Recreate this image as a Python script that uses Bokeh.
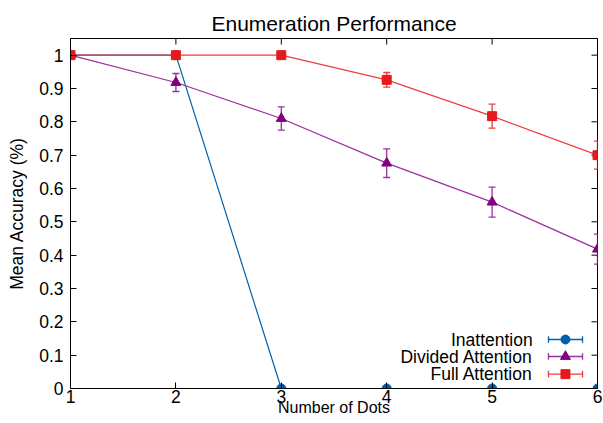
import math
from bokeh.plotting import figure
from bokeh.models import Label, Range1d, FixedTicker, Whisker, ColumnDataSource, TeeHead
from bokeh.embed import file_html
from bokeh.resources import INLINE

dots = [1, 2, 3, 4, 5, 6]
inattention = [1.0, 1.0, 0.0, 0.0, 0.0, 0.0]
inattention_err = [0.0, 0.0, 0.0, 0.0, 0.0, 0.0]
divided = [1.0, 0.918, 0.81, 0.676, 0.559, 0.418]
divided_err = [0.0, 0.027, 0.035, 0.043, 0.045, 0.045]
full = [1.0, 1.0, 1.0, 0.926, 0.817, 0.70]
full_err = [0.0, 0.0, 0.0, 0.022, 0.036, 0.042]
series_names = ["Inattention", "Divided Attention", "Full Attention"]
x_ticks = [1, 2, 3, 4, 5, 6]
y_ticks = [0, 0.1, 0.2, 0.3, 0.4, 0.5, 0.6, 0.7, 0.8, 0.9, 1.0]

FONT = "Liberation Sans"
BLUE = "#0060ad"
PURPLE = "#800080"
PURPLE_LINE = "#9b30a0"
RED = "#e41a1c"
RED_LINE = "#f03c3c"
X_MIN, X_MAX, Y_MIN, Y_MAX = 1, 6, 0, 1.05

p = figure(width=603, height=423, output_backend="svg", toolbar_location=None,
           x_range=Range1d(X_MIN, X_MAX), y_range=Range1d(Y_MIN, Y_MAX),
           min_border_left=70, min_border_right=6, min_border_top=38, min_border_bottom=35)
p.frame_width = 527
p.frame_height = 350
p.grid.visible = False
p.outline_line_color = "black"
p.outline_line_width = 1
p.background_fill_color = "white"
p.border_fill_color = "white"

p.title.text = "Enumeration Performance"
p.title.align = "center"
p.title.text_font = FONT
p.title.text_font_size = "21px"
p.title.text_font_style = "normal"
p.title.text_color = "black"
p.title.offset = 0
p.title.standoff = 7

for ax in [p.xaxis[0], p.yaxis[0]]:
    ax.major_tick_in = 6
    ax.major_tick_out = 0
    ax.minor_tick_in = 0
    ax.minor_tick_out = 0
    ax.axis_line_color = "black"
    ax.major_tick_line_color = "black"
    ax.major_label_text_font = FONT
    ax.major_label_text_font_size = "17.5px"
    ax.major_label_text_color = "black"
    ax.axis_label_text_font = FONT
    ax.axis_label_text_font_size = "17.5px"
    ax.axis_label_text_font_style = "normal"
    ax.axis_label_text_color = "black"

p.xaxis.ticker = FixedTicker(ticks=x_ticks)
p.yaxis.ticker = FixedTicker(ticks=y_ticks)
p.yaxis.major_label_overrides = {0: "0", 1: "1"}
p.xaxis.axis_label = "Number of Dots"
p.xaxis.axis_label_text_font_size = "16px"
p.yaxis.axis_label = "Mean Accuracy (%)"
p.xaxis.major_label_standoff = 1
p.xaxis.axis_label_standoff = -7
p.yaxis.major_label_standoff = 7
p.yaxis.axis_label_standoff = 9

# mirrored inward ticks on top and right (gnuplot style)
p.ray(x=x_ticks, y=[Y_MAX] * len(x_ticks), length=6, length_units="screen",
      angle=-math.pi / 2, line_color="black", line_width=1)
p.ray(x=[X_MAX] * len(y_ticks), y=y_ticks, length=6, length_units="screen",
      angle=math.pi, line_color="black", line_width=1)

MSIZE = {"circle": 9, "triangle": 10, "square": 9}
series = [
    (inattention, inattention_err, BLUE, BLUE, "circle"),
    (divided, divided_err, PURPLE_LINE, PURPLE, "triangle"),
    (full, full_err, RED_LINE, RED, "square"),
]
for vals, errs, lc, mc, marker in series:
    src = ColumnDataSource(dict(x=dots, y=vals,
                                lo=[v - e for v, e in zip(vals, errs)],
                                hi=[v + e for v, e in zip(vals, errs)]))
    p.line("x", "y", source=src, line_color=lc, line_width=1.2)
    w = Whisker(source=src, base="x", lower="lo", upper="hi", line_color=lc, line_width=1.3,
                upper_head=TeeHead(size=7, line_color=lc, line_width=1.3),
                lower_head=TeeHead(size=7, line_color=lc, line_width=1.3))
    p.add_layout(w)
    p.scatter("x", "y", source=src, marker=marker, size=MSIZE[marker],
              fill_color=mc, line_color=mc)

# manual legend (gnuplot style: label right-aligned, sample on the right)
leg_y = [0.147, 0.096, 0.043]
sx0, sx1, sxm = 5.535, 5.858, 5.696
for (vals, errs, lc, mc, marker), name, ly in zip(series, series_names, leg_y):
    p.segment(x0=sx0, y0=ly, x1=sx1, y1=ly, line_color=lc, line_width=1.3)
    p.segment(x0=[sx0, sx1], y0=[ly - 0.01, ly - 0.01], x1=[sx0, sx1], y1=[ly + 0.01, ly + 0.01],
              line_color=lc, line_width=1.3)
    p.scatter(x=[sxm], y=[ly], marker=marker, size=MSIZE[marker],
              fill_color=mc, line_color=mc)
    p.add_layout(Label(x=sx0 - 0.15, y=ly, text=name, text_align="right", text_baseline="middle",
                       text_font=FONT, text_font_size="17.5px", text_color="black"))

open("out.html", "w").write(file_html(p, INLINE))
